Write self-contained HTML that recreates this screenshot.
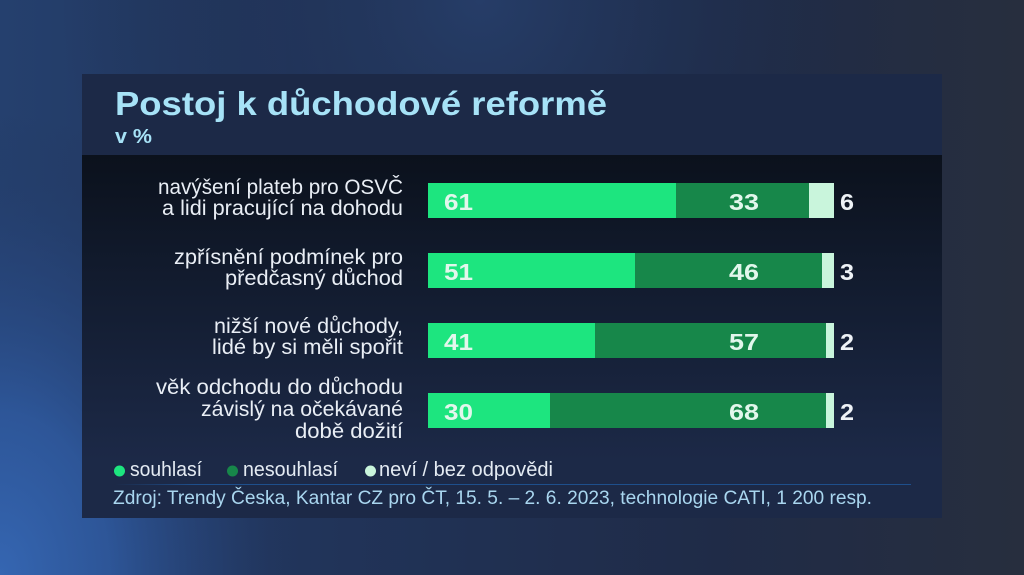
<!DOCTYPE html>
<html><head><meta charset="utf-8"><style>
html,body{margin:0;padding:0;width:1024px;height:575px;overflow:hidden;background:#1b2640}
svg{display:block}
text{font-family:"Liberation Sans",sans-serif}
</style></head><body>
<svg width="1024" height="575" viewBox="0 0 1024 575" xmlns="http://www.w3.org/2000/svg">
<defs>
<radialGradient id="bgl" gradientUnits="userSpaceOnUse" cx="0" cy="575" r="420" gradientTransform="translate(0,575) scale(0.75,1.1) translate(0,-575)">
<stop offset="0" stop-color="#3566b2"/><stop offset="0.35" stop-color="#2f5aa0" stop-opacity="0.85"/><stop offset="0.7" stop-color="#27467e" stop-opacity="0.4"/><stop offset="1" stop-color="#1e2f52" stop-opacity="0"/></radialGradient>
<radialGradient id="bgt" gradientUnits="userSpaceOnUse" cx="480" cy="0" r="420">
<stop offset="0" stop-color="#263d68"/><stop offset="1" stop-color="#1c2a46" stop-opacity="0"/></radialGradient>
<linearGradient id="bgb" x1="0" y1="0" x2="1" y2="0">
<stop offset="0" stop-color="#25406e"/><stop offset="0.3" stop-color="#21345a"/><stop offset="0.7" stop-color="#1f2b47"/><stop offset="1" stop-color="#272e3e"/></linearGradient>
<linearGradient id="body" x1="0" y1="0" x2="0" y2="1">
<stop offset="0" stop-color="#0b111c"/><stop offset="0.35" stop-color="#111a2c"/><stop offset="1" stop-color="#1c2947"/></linearGradient>
<linearGradient id="sep" x1="0" y1="0" x2="1" y2="0">
<stop offset="0" stop-color="#1e4f8c" stop-opacity="0"/><stop offset="0.1" stop-color="#1e4f8c"/><stop offset="1" stop-color="#1e4f8c"/></linearGradient>
</defs>
<rect width="1024" height="575" fill="url(#bgb)"/>
<rect width="1024" height="575" fill="url(#bgt)"/>
<rect width="1024" height="575" fill="url(#bgl)"/>

<!-- panel -->
<rect x="82" y="74" width="860" height="81" fill="#1c2947"/>
<rect x="82" y="155" width="860" height="305" fill="url(#body)"/>
<rect x="82" y="460" width="860" height="58" fill="#1c2947"/>

<text x="115" y="115" font-size="33" font-weight="bold" fill="#a6e2f7" textLength="492" lengthAdjust="spacingAndGlyphs">Postoj k důchodové reformě</text>
<text x="115" y="143" font-size="20" font-weight="bold" fill="#a6e2f7" textLength="37" lengthAdjust="spacingAndGlyphs">v %</text>

<!-- labels -->
<g fill="#e9eef5" font-size="21" text-anchor="end">
<text x="403" y="194" textLength="245" lengthAdjust="spacingAndGlyphs">navýšení plateb pro OSVČ</text>
<text x="403" y="215" textLength="241" lengthAdjust="spacingAndGlyphs">a lidi pracující na dohodu</text>
<text x="403" y="264" textLength="229" lengthAdjust="spacingAndGlyphs">zpřísnění podmínek pro</text>
<text x="403" y="285" textLength="178" lengthAdjust="spacingAndGlyphs">předčasný důchod</text>
<text x="403" y="333" textLength="189" lengthAdjust="spacingAndGlyphs">nižší nové důchody,</text>
<text x="403" y="354" textLength="191" lengthAdjust="spacingAndGlyphs">lidé by si měli spořit</text>
<text x="403" y="394" textLength="247" lengthAdjust="spacingAndGlyphs">věk odchodu do důchodu</text>
<text x="403" y="416" textLength="202" lengthAdjust="spacingAndGlyphs">závislý na očekávané</text>
<text x="403" y="438" textLength="108" lengthAdjust="spacingAndGlyphs">době dožití</text>
</g>

<!-- bars -->
<g>
<rect x="428" y="183" width="248" height="35" fill="#1de57f"/>
<rect x="676" y="183" width="133" height="35" fill="#17874a"/>
<rect x="809" y="183" width="25" height="35" fill="#c9f5dc"/>

<rect x="428" y="253" width="207" height="35" fill="#1de57f"/>
<rect x="635" y="253" width="187" height="35" fill="#17874a"/>
<rect x="822" y="253" width="12" height="35" fill="#c9f5dc"/>

<rect x="428" y="323" width="167" height="35" fill="#1de57f"/>
<rect x="595" y="323" width="231" height="35" fill="#17874a"/>
<rect x="826" y="323" width="8" height="35" fill="#c9f5dc"/>

<rect x="428" y="393" width="122" height="35" fill="#1de57f"/>
<rect x="550" y="393" width="276" height="35" fill="#17874a"/>
<rect x="826" y="393" width="8" height="35" fill="#c9f5dc"/>
</g>

<g font-size="23" font-weight="bold" fill="#e2f7ec">
<text x="444" y="210" textLength="29" lengthAdjust="spacingAndGlyphs">61</text>
<text x="444" y="280" textLength="29" lengthAdjust="spacingAndGlyphs">51</text>
<text x="444" y="350" textLength="29" lengthAdjust="spacingAndGlyphs">41</text>
<text x="444" y="420" textLength="29" lengthAdjust="spacingAndGlyphs">30</text>
<text x="729" y="210" textLength="30" lengthAdjust="spacingAndGlyphs">33</text>
<text x="729" y="280" textLength="30" lengthAdjust="spacingAndGlyphs">46</text>
<text x="729" y="350" textLength="30" lengthAdjust="spacingAndGlyphs">57</text>
<text x="729" y="420" textLength="30" lengthAdjust="spacingAndGlyphs">68</text>
</g>
<g font-size="23" font-weight="bold" fill="#eef2f6">
<text x="840" y="210" textLength="14" lengthAdjust="spacingAndGlyphs">6</text>
<text x="840" y="280" textLength="14" lengthAdjust="spacingAndGlyphs">3</text>
<text x="840" y="350" textLength="14" lengthAdjust="spacingAndGlyphs">2</text>
<text x="840" y="420" textLength="14" lengthAdjust="spacingAndGlyphs">2</text>
</g>

<!-- legend -->
<circle cx="119.5" cy="471" r="5.5" fill="#1de57f"/>
<circle cx="232.5" cy="471" r="5.5" fill="#17874a"/>
<circle cx="370.5" cy="471" r="5.5" fill="#c9f5dc"/>
<g font-size="20" fill="#e4ebf3">
<text x="130" y="476" textLength="72" lengthAdjust="spacingAndGlyphs">souhlasí</text>
<text x="243" y="476" textLength="95" lengthAdjust="spacingAndGlyphs">nesouhlasí</text>
<text x="379" y="476" textLength="174" lengthAdjust="spacingAndGlyphs">neví / bez odpovědi</text>
</g>
<rect x="115" y="484" width="796" height="1" fill="url(#sep)"/>
<text x="113" y="504" font-size="19" fill="#a9d6ef" textLength="759" lengthAdjust="spacingAndGlyphs">Zdroj: Trendy Česka, Kantar CZ pro ČT, 15. 5. – 2. 6. 2023, technologie CATI, 1 200 resp.</text>
</svg>
</body></html>
